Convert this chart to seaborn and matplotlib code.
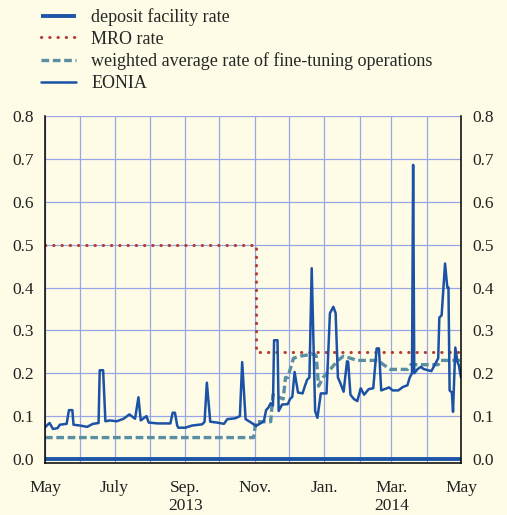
import pandas as pd
import numpy as np
import matplotlib
matplotlib.use("Agg")
import matplotlib.pyplot as plt
import seaborn as sns

# ----------------------
# Key ECB interest rates and EONIA, May 2013 - May 2014
# values, days counted from 1 May 2013
# ----------------------

start = pd.Timestamp("2013-05-01")
end = pd.Timestamp("2014-05-01")

eonia_day = [0, 4, 7, 11, 13, 19, 21, 24, 25, 31,
             37, 42, 47, 48, 51, 53, 57, 63, 69, 74,
             79, 82, 84, 89, 91, 99, 110, 112, 114, 116,
             117, 123, 129, 138, 140, 142, 145, 151, 157, 160,
             167, 171, 173, 176, 182, 185, 187, 192, 194, 196,
             198, 200, 201, 204, 205, 208, 213, 215, 217, 219,
             222, 226, 228, 230, 232, 234, 237, 239, 242, 247,
             250, 253, 255, 257, 259, 262, 265, 266, 268, 271,
             274, 277, 280, 284, 288, 291, 293, 295, 297, 302,
             305, 310, 314, 318, 320, 322, 323, 324, 327, 330,
             332, 339, 341, 345, 346, 348, 351, 353, 354, 355,
             357, 358, 360, 362, 363, 365]
eonia_rate = [0.074, 0.084, 0.070, 0.072, 0.080, 0.082, 0.114, 0.114, 0.080, 0.078,
              0.075, 0.082, 0.084, 0.207, 0.207, 0.088, 0.090, 0.088, 0.094, 0.104,
              0.094, 0.144, 0.090, 0.100, 0.085, 0.083, 0.083, 0.108, 0.108, 0.078,
              0.073, 0.073, 0.078, 0.081, 0.087, 0.178, 0.087, 0.085, 0.082, 0.093,
              0.095, 0.100, 0.226, 0.093, 0.083, 0.077, 0.080, 0.088, 0.114, 0.120,
              0.130, 0.125, 0.277, 0.277, 0.112, 0.127, 0.128, 0.140, 0.145, 0.203,
              0.155, 0.153, 0.170, 0.185, 0.190, 0.445, 0.112, 0.096, 0.153, 0.153,
              0.340, 0.355, 0.340, 0.190, 0.178, 0.157, 0.228, 0.227, 0.150, 0.140,
              0.135, 0.165, 0.150, 0.163, 0.165, 0.258, 0.258, 0.160, 0.162, 0.167,
              0.160, 0.160, 0.168, 0.172, 0.190, 0.200, 0.686, 0.200, 0.210, 0.215,
              0.210, 0.205, 0.215, 0.235, 0.330, 0.335, 0.456, 0.400, 0.400, 0.160,
              0.155, 0.110, 0.260, 0.225, 0.220, 0.190]

fto_day = [0, 183, 185, 198, 200, 209, 211, 213, 218, 224,
           236, 238, 240, 244, 249, 257, 262, 268, 274, 292,
           297, 303, 318, 321, 345, 347, 365]
fto_rate = [0.05, 0.05, 0.087, 0.087, 0.15, 0.14, 0.19, 0.19, 0.235, 0.24,
            0.245, 0.24, 0.17, 0.19, 0.205, 0.23, 0.24, 0.235, 0.23, 0.23,
            0.22, 0.209, 0.209, 0.22, 0.22, 0.23, 0.23]

mro_day = [0, 185, 365]
mro_rate = [0.50, 0.25, 0.25]

deposit_day = [0, 365]
deposit_rate = [0.0, 0.0]

month_labels = ["May", "", "July", "", "Sep.\n2013", "", "Nov.", "",
                "Jan.", "", "Mar.\n2014", "", "May"]


def to_frame(days, rates):
    return pd.DataFrame({"date": start + pd.to_timedelta(days, unit="D"),
                         "rate": rates})


bg = "#fefce6"
sns.set_theme(style="white", rc={"axes.facecolor": bg, "figure.facecolor": bg})
plt.rcParams["font.family"] = ["Liberation Serif", "DejaVu Serif"]

fig = plt.figure(figsize=(5.07, 5.15), dpi=100)
ax = fig.add_axes([45 / 507, 52 / 515, 416 / 507, 347 / 515])

sns.lineplot(data=to_frame(deposit_day, deposit_rate), x="date", y="rate", ax=ax,
             color="#1f55a8", lw=2.8, estimator=None, label="deposit facility rate",
             solid_capstyle="butt")
sns.lineplot(data=to_frame(mro_day, mro_rate), x="date", y="rate", ax=ax,
             color="#b53a32", lw=2.2, estimator=None, drawstyle="steps-post",
             label="MRO rate")
sns.lineplot(data=to_frame(fto_day, fto_rate), x="date", y="rate", ax=ax,
             color="#5a8ea3", lw=2.4, estimator=None, sort=False,
             label="weighted average rate of fine-tuning operations")
sns.lineplot(data=to_frame(eonia_day, eonia_rate), x="date", y="rate", ax=ax,
             color="#1b52a6", lw=1.8, estimator=None, sort=False, label="EONIA")

lines = ax.get_lines()
lines[1].set_linestyle((0, (0.1, 2.6)))
lines[1].set_dash_capstyle("round")
lines[2].set_linestyle((0, (2.3, 1.1)))
lines[2].set_dash_capstyle("butt")

ax.set_xlim(start, end)
ax.set_ylim(-0.0093, 0.8)
ax.set_yticks(np.arange(0, 0.81, 0.1))
ax.set_yticklabels([f"{v:.1f}" for v in np.arange(0, 0.81, 0.1)])
ax.set_xticks(pd.date_range(start, end, freq="MS"))
ax.set_xticklabels(month_labels)
ax.set_xlabel("")
ax.set_ylabel("")

ax.grid(True, color="#98a6e6", lw=0.9)
ax.set_axisbelow(True)
for side in ["left", "right", "bottom"]:
    ax.spines[side].set_color("black")
    ax.spines[side].set_linewidth(1.1)
ax.spines["top"].set_visible(False)

ax.tick_params(axis="y", length=0, pad=8, labelsize=12.5, labelleft=True,
               labelright=True, colors="#222222")
ax.tick_params(axis="x", direction="out", length=4, width=1, color="black",
               pad=8, labelsize=12.5, labelcolor="#222222")
ax.xaxis.get_major_ticks()[8].tick1line.set_markersize(10)

ax.get_legend().remove()
fig.legend(handles=lines, loc="upper left", bbox_to_anchor=(41 / 507, 1 - 8 / 515),
           frameon=False, fontsize=13, handlelength=1.95, handletextpad=0.83,
           labelspacing=0.26, borderpad=0, borderaxespad=0)

fig.savefig("out.png", dpi=100, facecolor=bg)
